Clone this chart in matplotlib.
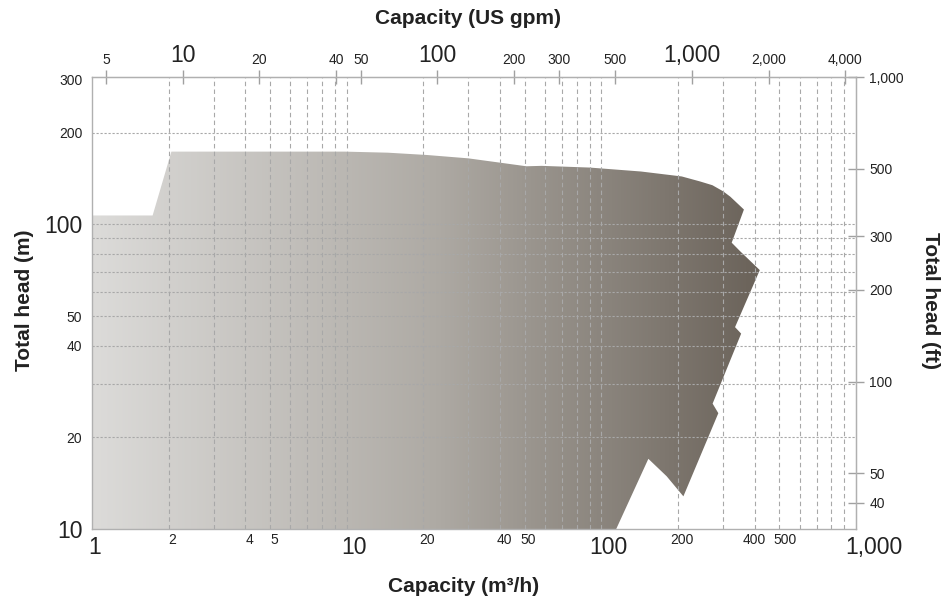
import numpy as np
import matplotlib
matplotlib.use("Agg")
import matplotlib.pyplot as plt
from matplotlib.patches import Polygon
from matplotlib.colors import LinearSegmentedColormap
from matplotlib.transforms import ScaledTranslation

plt.rcParams['font.family'] = ['Liberation Sans', 'DejaVu Sans']

# ---- data: performance range envelope (capacity m3/h, head m) ----
outline_q = [1, 1, 1.73, 2.05, 9.8, 14.5, 20.7, 30, 40, 50.8, 58.3, 90, 143, 207, 244,
             273, 301, 321, 345, 363,
             325, 350, 419, 335, 354, 273.5, 288, 210, 180.5, 153, 114.4]
outline_h = [10, 107, 107, 173.4, 173.4, 172, 169, 164.8, 159.5, 155.2, 155.7, 153.7,
             149.2, 143.7, 138.4, 134.5, 128.4, 123.3, 116.5, 111.9,
             87.1, 81.8, 70.8, 46.0, 43.8, 25.8, 24.0, 12.8, 14.9, 17.0, 10]

# axis ticks
x_ticks = [1, 2, 4, 5, 10, 20, 40, 50, 100, 200, 400, 500, 1000]
x_labels = ['1', '2', '4', '5', '10', '20', '40', '50', '100', '200', '400', '500', '1,000']
x_major = [1, 10, 100, 1000]
y_ticks = [10, 20, 40, 50, 100, 200, 300]
y_labels = ['10', '20', '40', '50', '100', '200', '300']
y_major = [10, 100]
gpm_ticks = [5, 10, 20, 40, 50, 100, 200, 300, 500, 1000, 2000, 4000]
gpm_labels = ['5', '10', '20', '40', '50', '100', '200', '300', '500', '1,000', '2,000', '4,000']
gpm_major = [10, 100, 1000]
ft_ticks = [40, 50, 100, 200, 300, 500, 1000]
ft_labels = ['40', '50', '100', '200', '300', '500', '1,000']

x_grid = [2, 3, 4, 5, 6, 7, 8, 9, 10, 20, 30, 40, 50, 60, 70, 80, 90,
          100, 200, 300, 400, 500, 600, 700, 800, 900]
y_grid = [20, 30, 40, 50, 60, 70, 80, 90, 100, 200]

GPM_PER_M3H = 4.403
FT_PER_M = 3.281

W, H = 946, 609
fig = plt.figure(figsize=(W / 100, H / 100), dpi=100)
ax = fig.add_axes([92 / W, 1 - 529 / H, 764 / W, 452 / H])
ax.set_xscale('log')
ax.set_yscale('log')
ax.set_xlim(1, 1000)
ax.set_ylim(10, 304.8)

# gradient fill clipped by envelope
grad_cmap = LinearSegmentedColormap.from_list(
    'g', [(0.0, '#dcdbd9'), (0.45, '#aeaaa4'), (0.874, '#6a6259'), (1.0, '#6a6259')])
grad = np.linspace(0, 1, 512).reshape(1, -1)
im = ax.imshow(grad, cmap=grad_cmap, extent=[0, 1, 0, 1], transform=ax.transAxes,
               aspect='auto', zorder=1, interpolation='bilinear')
poly = Polygon(np.column_stack([outline_q, outline_h]), closed=True,
               transform=ax.transData, facecolor='none', edgecolor='none')
ax.add_patch(poly)
im.set_clip_path(poly)

# grid
for xv in x_grid:
    ax.axvline(xv, color='#a8a8a8', lw=0.8, ls=(0, (4, 3)), zorder=2)
for yv in y_grid:
    ax.axhline(yv, color='#a8a8a8', lw=0.8, ls=(0, (2, 1.6)), zorder=2)

for s in ax.spines.values():
    s.set_color('#b0b0b0')
    s.set_linewidth(1.0)

txt = '#222222'
# bottom axis
ax.set_xticks(x_ticks)
ax.set_xticklabels(x_labels)
ax.xaxis.set_minor_locator(matplotlib.ticker.NullLocator())
ax.tick_params(axis='x', which='major', length=0, pad=5, colors=txt)
for t, v in zip(ax.get_xticklabels(), x_ticks):
    t.set_verticalalignment('top')
    if v in x_major:
        t.set_fontsize(16.5)
        dx = 18 if v == 1000 else (3 if v == 1 else 7)
    else:
        t.set_fontsize(10)
        t.set_y(0.006)
        dx = 0 if v == 400 else (6 if v == 500 else 4)
    t.set_transform(t.get_transform() + ScaledTranslation(dx / 100, 0, fig.dpi_scale_trans))

# left axis
ax.set_yticks(y_ticks)
ax.set_yticklabels(y_labels)
ax.yaxis.set_minor_locator(matplotlib.ticker.NullLocator())
ax.tick_params(axis='y', which='major', length=0, pad=7, colors=txt)
for t, v in zip(ax.get_yticklabels(), y_ticks):
    t.set_fontsize(16.5 if v in y_major else 10)

# top axis (US gpm)
top = ax.secondary_xaxis('top', functions=(lambda q: q * GPM_PER_M3H,
                                           lambda g: g / GPM_PER_M3H))
top.set_xticks(gpm_ticks)
top.set_xticklabels(gpm_labels)
top.xaxis.set_minor_locator(matplotlib.ticker.NullLocator())
top.tick_params(axis='x', which='major', direction='inout', length=10, width=1,
                color='#a0a0a0', pad=2, labelcolor=txt)
for t, v in zip(top.get_xticklabels(), gpm_ticks):
    t.set_fontsize(16.5 if v in gpm_major else 10)
top.spines['top'].set_color('#b0b0b0')

# right axis (ft)
right = ax.secondary_yaxis('right', functions=(lambda m: m * FT_PER_M,
                                               lambda f: f / FT_PER_M))
right.set_yticks(ft_ticks)
right.set_yticklabels(ft_labels)
right.yaxis.set_minor_locator(matplotlib.ticker.NullLocator())
right.tick_params(axis='y', which='major', direction='inout', length=11, width=1,
                  color='#a0a0a0', pad=4, labelcolor=txt, labelsize=10)
right.spines['right'].set_color('#b0b0b0')

# axis titles
fig.text(468 / W, 1 - 19 / H, 'Capacity (US gpm)', ha='center', va='center',
         fontsize=15, fontweight='bold', color=txt)
fig.text(464 / W, 1 - 586 / H, 'Capacity (m³/h)', ha='center', va='center',
         fontsize=15, fontweight='bold', color=txt)
fig.text(25 / W, 1 - 300 / H, 'Total head (m)', ha='center', va='center',
         rotation=90, fontsize=15, fontweight='bold', color=txt)
fig.text(930 / W, 1 - 300 / H, 'Total head (ft)', ha='center', va='center',
         rotation=-90, fontsize=15, fontweight='bold', color=txt)

fig.savefig('out.png', dpi=100)
